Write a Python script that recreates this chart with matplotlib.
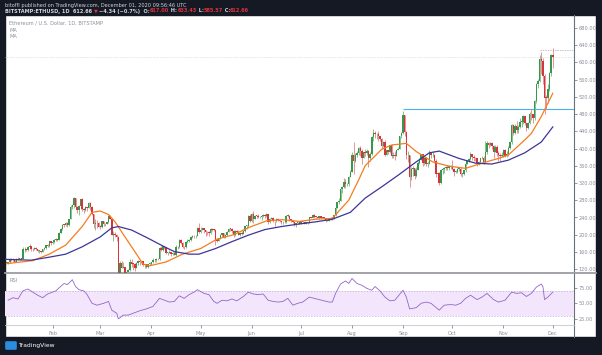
# -*- coding: utf-8 -*-

import matplotlib
matplotlib.use('Agg')
import matplotlib.pyplot as plt
import matplotlib.dates as mdates
from matplotlib.patches import Rectangle, FancyBboxPatch
import numpy as np
import pandas as pd

W, H = 602, 355

# BITSTAMP:ETHUSD daily candles, 2020-01-04 .. 2020-12-01 (open = previous close)
first_open = 134.3
close_jan = [134.5, 135.8, 144.0, 142.9, 141.0, 137.9, 144.0, 142.6, 146.3, 143.7,
             165.9, 166.2, 164.0, 170.6, 174.4, 166.7, 166.6, 169.2, 167.9, 162.3,
             162.6, 160.6, 167.8, 170.3, 175.2, 174.1, 184.4, 180.0]
high_jan = [136, 137, 145, 147, 145, 142, 145, 148, 147, 146,
            171, 172, 167, 174, 179, 175, 169, 171, 172, 168,
            165, 162, 168, 171, 177, 178, 186, 184]
low_jan = [133, 133, 135, 140, 138, 136, 136, 141, 142, 142,
           143, 160, 162, 163, 168, 163, 162, 165, 165, 161,
           157, 157, 159, 165, 168, 171, 172, 176]

close_feb = [183.5, 188.6, 189.5, 188.9, 204.0, 212.5, 223.1, 223.0, 228.3, 223.0,
             236.7, 265.0, 268.4, 284.2, 265.0, 258.0, 267.5, 282.4, 258.9, 258.3,
             264.9, 261.9, 274.5, 265.5, 248.0, 225.0, 227.3, 226.4, 218.5]
high_feb = [185, 190, 193, 190, 206, 215, 226, 226, 230, 229,
            237, 268, 271, 288, 286, 267, 269, 284, 286, 262,
            267, 264, 275, 276, 266, 248, 237, 234, 229]
low_feb = [179, 180, 186, 186, 188, 203, 211, 218, 220, 219,
           220, 236, 259, 261, 264, 250, 245, 260, 256, 250,
           255, 256, 261, 257, 245, 215, 212, 215, 217]

close_mar = [218.0, 231.0, 224.3, 224.5, 228.5, 244.5, 237.5, 200.5, 201.0, 200.5,
             194.5, 112.0, 133.5, 124.0, 125.0, 110.5, 113.0, 117.5, 136.0, 133.0,
             132.0, 123.0, 135.0, 138.5, 136.0, 138.5, 131.0, 131.5, 125.0, 132.0,
             133.3]
high_mar = [222, 233, 232, 228, 229, 245, 246, 238, 209, 207,
            201, 196, 138, 138, 136, 126, 118, 120, 143, 144,
            135, 135, 137, 142, 141, 140, 140, 132, 133, 133,
            136]
low_mar = [213, 216, 221, 221, 224, 227, 236, 199, 185, 195,
           185, 104, 95, 122, 123, 101, 107, 110, 116, 126,
           119, 117, 122, 131, 130, 135, 128, 123, 124, 124,
           130]

close_apr = [136.5, 141.5, 141.0, 144.2, 143.0, 170.0, 164.5, 173.0, 170.5, 158.0,
             158.5, 161.0, 156.0, 157.5, 153.0, 172.5, 171.0, 187.0, 180.5, 171.0,
             170.5, 182.5, 185.5, 187.5, 194.5, 197.5, 196.5, 197.0, 215.5, 206.5]
high_apr = [137, 145, 143, 145, 146, 172, 175, 175, 175, 172,
            160, 164, 161, 160, 161, 176, 175, 189, 189, 184,
            174, 185, 189, 189, 196, 200, 200, 199, 218, 227]
low_apr = [130, 135, 137, 137, 142, 142, 162, 163, 168, 155,
           154, 157, 150, 154, 152, 151, 168, 170, 179, 169,
           167, 169, 181, 184, 186, 193, 193, 192, 196, 203]

close_may = [212.0, 214.5, 210.0, 207.5, 205.5, 204.5, 212.5, 212.0, 211.0, 188.5,
             186.0, 190.0, 199.5, 203.5, 194.5, 200.5, 207.0, 214.0, 213.5, 209.0,
             198.5, 209.0, 207.5, 200.5, 205.0, 202.0, 208.5, 220.0, 220.5, 244.0,
             231.5]
high_may = [217, 216, 215, 210, 209, 209, 215, 216, 213, 213,
            193, 193, 202, 204, 205, 202, 209, 215, 216, 216,
            210, 210, 211, 210, 207, 208, 210, 221, 222, 245,
            247]
low_may = [204, 210, 203, 197, 200, 198, 202, 208, 208, 177,
           183, 185, 189, 195, 192, 193, 198, 206, 208, 205,
           195, 198, 204, 199, 197, 199, 201, 206, 214, 219,
           229]

close_jun = [247.5, 237.5, 244.5, 244.0, 240.5, 242.0, 244.5, 246.5, 244.0, 247.5,
             230.5, 237.0, 238.5, 233.0, 231.0, 236.0, 234.0, 232.5, 228.5, 230.0,
             229.0, 243.5, 244.0, 235.5, 233.0, 230.5, 221.5, 227.0, 229.0, 226.0]
high_jun = [250, 254, 245, 246, 247, 243, 246, 248, 247, 250,
            248, 238, 240, 240, 233, 238, 238, 236, 233, 232,
            233, 245, 248, 245, 236, 233, 232, 227, 230, 230]
low_jun = [230, 227, 236, 238, 238, 239, 234, 241, 238, 240,
           226, 228, 236, 230, 220, 230, 231, 230, 226, 225,
           227, 228, 240, 232, 229, 228, 220, 219, 225, 224]

close_jul = [231.0, 229.0, 226.0, 229.0, 227.0, 241.0, 239.0, 246.5, 242.0, 241.5,
             239.0, 242.5, 240.0, 241.0, 238.0, 233.0, 233.0, 235.5, 239.0, 236.5,
             245.0, 263.0, 275.0, 279.0, 305.0, 311.0, 322.0, 317.0, 318.0, 334.0,
             346.0]
high_jul = [232, 233, 229, 230, 229, 242, 242, 247, 248, 242,
            241, 243, 242, 242, 242, 238, 235, 236, 240, 240,
            246, 265, 277, 285, 306, 314, 332, 330, 321, 336,
            349]
low_jul = [225, 227, 225, 225, 224, 227, 238, 238, 239, 236,
           238, 237, 239, 238, 237, 229, 231, 232, 234, 235,
           236, 243, 262, 272, 278, 297, 308, 309, 312, 314,
           333]

close_aug = [386, 370, 386, 390, 401, 395, 379, 391, 390, 394,
             378, 387, 427, 437, 433, 433, 429, 423, 406, 416,
             386, 396, 391, 408, 383, 386, 382, 396, 400, 428,
             435]
high_aug = [392, 415, 390, 395, 403, 405, 399, 392, 398, 400,
            397, 391, 430, 445, 440, 436, 440, 429, 425, 418,
            420, 396, 397, 409, 410, 392, 394, 397, 403, 429,
            438]
low_aug = [345, 340, 368, 381, 385, 383, 365, 377, 383, 386,
           358, 370, 386, 417, 425, 421, 418, 418, 400, 403,
           383, 387, 387, 389, 379, 377, 373, 382, 396, 399,
           425]

close_sep = [477, 439, 384, 386, 335, 353, 354, 337, 351, 367,
             373, 387, 366, 377, 365, 365, 389, 384, 384, 371,
             341, 344, 320, 349, 352, 354, 357, 354, 359, 360]
high_sep = [488, 478, 440, 395, 386, 356, 359, 355, 356, 372,
            378, 388, 388, 380, 380, 370, 397, 389, 394, 387,
            375, 346, 346, 352, 354, 358, 360, 361, 362, 361]
low_sep = [434, 428, 375, 368, 310, 326, 336, 330, 335, 349,
           363, 373, 359, 361, 360, 358, 363, 377, 380, 367,
           334, 333, 315, 318, 342, 344, 349, 351, 349, 352]

close_oct = [353, 346, 346, 353, 353, 341, 341, 350, 365, 371,
             375, 387, 381, 378, 377, 366, 368, 377, 379, 368,
             392, 413, 409, 412, 406, 393, 404, 389, 386, 382,
             386]
high_oct = [374, 355, 349, 354, 356, 356, 343, 351, 368, 373,
            377, 393, 388, 384, 381, 379, 370, 378, 382, 382,
            417, 418, 415, 416, 415, 409, 409, 408, 394, 390,
            393]
low_oct = [350, 337, 344, 344, 347, 336, 335, 338, 346, 363,
           369, 373, 374, 372, 370, 359, 362, 366, 375, 365,
           366, 387, 402, 406, 399, 378, 393, 382, 371, 371,
           380]

close_nov = [396, 383, 388, 402, 415, 454, 435, 453, 444, 449,
             462, 462, 476, 460, 448, 460, 481, 479, 471, 510,
             549, 557, 608, 603, 568, 518, 517, 538, 575, 617]
high_nov = [398, 398, 394, 406, 418, 456, 456, 456, 463, 454,
            470, 470, 478, 476, 461, 462, 485, 491, 479, 512,
            551, 562, 617, 624, 609, 573, 525, 550, 577, 618]
low_nov = [381, 380, 380, 382, 398, 411, 432, 433, 436, 435,
           447, 450, 457, 454, 441, 445, 456, 467, 458, 466,
           506, 540, 555, 572, 550, 480, 492, 505, 533, 568]

close_dec = [612.66]
high_dec = [633.43]
low_dec = [585.57]

# moving averages
ma_fast_dates = ['2020-01-04', '2020-01-20', '2020-01-30', '2020-02-09', '2020-02-19',
                 '2020-02-25', '2020-03-01', '2020-03-06', '2020-03-10', '2020-03-16',
                 '2020-03-22', '2020-03-27', '2020-03-31', '2020-04-10', '2020-04-20',
                 '2020-05-01', '2020-05-11', '2020-05-21', '2020-05-31', '2020-06-10',
                 '2020-06-20', '2020-06-30', '2020-07-10', '2020-07-20', '2020-07-30',
                 '2020-08-05', '2020-08-09', '2020-08-19', '2020-08-25', '2020-09-03',
                 '2020-09-09', '2020-09-19', '2020-09-29', '2020-10-09', '2020-10-19',
                 '2020-10-29', '2020-11-04', '2020-11-14', '2020-11-18', '2020-11-24',
                 '2020-12-01']
ma_fast = [133, 140, 155, 176, 219,
           252, 255, 247, 230, 195,
           161, 132, 128, 137, 155,
           168, 190, 200, 218, 232,
           235, 231, 236, 238, 280,
           327, 360, 398, 408, 412,
           393, 369, 359, 354, 366,
           377, 385, 420, 435, 474,
           528]

ma_slow_dates = ['2020-01-03', '2020-01-19', '2020-01-30', '2020-02-09', '2020-02-19',
                 '2020-03-01', '2020-03-08', '2020-03-12', '2020-03-20', '2020-03-30',
                 '2020-04-09', '2020-04-15', '2020-04-24', '2020-04-30', '2020-05-10',
                 '2020-05-20', '2020-05-30', '2020-06-09', '2020-06-19', '2020-06-30',
                 '2020-07-10', '2020-07-20', '2020-07-31', '2020-08-09', '2020-08-19',
                 '2020-08-29', '2020-09-09', '2020-09-17', '2020-09-23', '2020-10-05',
                 '2020-10-15', '2020-10-25', '2020-11-04', '2020-11-14', '2020-11-24',
                 '2020-12-01']
ma_slow = [143, 141, 148, 155, 172,
           195, 216, 219, 211, 192,
           172, 161, 155, 155, 168,
           184, 199, 212, 219, 225,
           230, 236, 252, 285, 311,
           338, 369, 390, 394, 377,
           366, 364, 373, 390, 415,
           450]

# RSI(14)
rsi_dates = ['2020-01-05', '2020-01-08', '2020-01-11', '2020-01-14', '2020-01-17',
             '2020-01-20', '2020-01-23', '2020-01-26', '2020-01-29', '2020-02-01',
             '2020-02-03', '2020-02-05', '2020-02-08', '2020-02-10', '2020-02-13',
             '2020-02-15', '2020-02-17', '2020-02-20', '2020-02-22', '2020-02-25',
             '2020-02-28', '2020-03-03', '2020-03-06', '2020-03-08', '2020-03-11',
             '2020-03-12', '2020-03-15', '2020-03-18', '2020-03-21', '2020-03-25',
             '2020-03-29', '2020-04-02', '2020-04-06', '2020-04-09', '2020-04-12',
             '2020-04-15', '2020-04-18', '2020-04-21', '2020-04-24', '2020-04-27',
             '2020-04-29', '2020-05-03', '2020-05-06', '2020-05-09', '2020-05-11',
             '2020-05-14', '2020-05-17', '2020-05-20', '2020-05-23', '2020-05-27',
             '2020-05-30', '2020-06-02', '2020-06-05', '2020-06-08', '2020-06-11',
             '2020-06-14', '2020-06-17', '2020-06-20', '2020-06-23', '2020-06-26',
             '2020-06-29', '2020-07-02', '2020-07-06', '2020-07-09', '2020-07-12',
             '2020-07-15', '2020-07-18', '2020-07-20', '2020-07-22', '2020-07-25',
             '2020-07-28', '2020-07-30', '2020-08-01', '2020-08-04', '2020-08-07',
             '2020-08-10', '2020-08-13', '2020-08-15', '2020-08-18', '2020-08-21',
             '2020-08-24', '2020-08-27', '2020-09-01', '2020-09-03', '2020-09-05',
             '2020-09-09', '2020-09-12', '2020-09-15', '2020-09-18', '2020-09-23',
             '2020-09-26', '2020-09-30', '2020-10-03', '2020-10-06', '2020-10-09',
             '2020-10-12', '2020-10-16', '2020-10-19', '2020-10-22', '2020-10-26',
             '2020-10-29', '2020-11-02', '2020-11-06', '2020-11-09', '2020-11-12',
             '2020-11-15', '2020-11-18', '2020-11-21', '2020-11-24', '2020-11-25',
             '2020-11-26', '2020-11-28', '2020-12-01']
rsi_vals = [55, 59, 57, 70, 73,
            68, 63, 59, 65, 68,
            70, 75, 82, 80, 88,
            77, 72, 70, 64, 50,
            47, 50, 53, 39, 34,
            25, 31, 31, 34, 38,
            41, 45, 58, 55, 52,
            53, 62, 58, 64, 68,
            72, 66, 64, 53, 50,
            55, 54, 57, 54, 61,
            68, 65, 64, 65, 55,
            53, 52, 53, 58, 47,
            50, 52, 60, 58, 56,
            54, 52, 52, 66, 81,
            86, 82, 90, 82, 79,
            74, 71, 77, 70, 60,
            54, 55, 71, 60, 41,
            43, 50, 52, 50, 39,
            47, 48, 47, 50, 58,
            63, 56, 60, 66, 56,
            52, 55, 68, 66, 67,
            61, 66, 76, 81, 77,
            56, 60, 68]

months = ['Feb', 'Mar', 'Apr', 'May', 'Jun', 'Jul', 'Aug', 'Sep', 'Oct', 'Nov', 'Dec']
price_ticks = [120, 160, 200, 240, 280, 320, 360, 400, 440, 480, 520, 560, 600, 640, 680]
rsi_ticks = [25, 50, 75]

DARK = '#151924'
GREEN = '#38974a'
RED = '#d8323c'
GRAY_TXT = '#8a8e99'
FS = 3.6


def px(x, y):
    # pixel position -> figure fraction
    return x / W, 1 - y / H


def main():
    fig = plt.figure(figsize=(W / 100, H / 100), dpi=100)

    bg = fig.add_axes([0, 0, 1, 1])
    bg.set_xlim(0, W)
    bg.set_ylim(H, 0)
    bg.axis('off')
    bg.add_patch(Rectangle((0, 0), W, H, color='white', zorder=0))
    bg.add_patch(Rectangle((0, 0), W, 15, color=DARK, zorder=1))
    bg.add_patch(Rectangle((0, 337), W, 18, color=DARK, zorder=1))
    bg.add_patch(Rectangle((0, 0), 4.5, H, color=DARK, zorder=1))
    bg.add_patch(Rectangle((596, 0), 6, H, color=DARK, zorder=1))
    bg.plot([574, 574], [15, 337], color='#6b6f78', lw=0.8, zorder=2)
    bg.plot([4.5, 596], [273, 273], color='#9a9ca3', lw=1.3, zorder=2)
    bg.plot([4.5, 574], [324.5, 324.5], color='#c4c6cc', lw=0.6, zorder=2)

    # header lines
    bg.text(5, 5.2, 'bitoffl published on TradingView.com, December 01, 2020 09:56:46 UTC',
            color='#d1d4dc', fontsize=FS, va='center', zorder=3)
    pieces = [('BITSTAMP:ETHUSD, 1D  612.66 ', '#d1d4dc'), ('\u25bc ', RED),
              ('\u22124.34 (\u22120.7%)  O:', '#d1d4dc'), ('617.00', RED),
              (' H:', '#d1d4dc'), ('633.43', RED), (' L:', '#d1d4dc'), ('585.57', RED),
              (' C:', '#d1d4dc'), ('612.66', RED)]
    prev = bg.text(5, 11, pieces[0][0], color=pieces[0][1], fontsize=FS,
                   fontweight='bold', va='center', zorder=3)
    for s, c in pieces[1:]:
        prev = bg.annotate(s, xycoords=prev, xy=(1, 0), va='bottom', color=c,
                           fontsize=FS, fontweight='bold', zorder=3)

    bg.text(9, 23, 'Ethereum / U.S. Dollar, 1D, BITSTAMP', color=GRAY_TXT, fontsize=FS,
            va='center', zorder=3)
    bg.text(9, 30, 'MA', color=GRAY_TXT, fontsize=FS, va='center', zorder=3)
    bg.text(9, 37, 'MA', color=GRAY_TXT, fontsize=FS, va='center', zorder=3)
    bg.text(9, 281, 'RSI', color=GRAY_TXT, fontsize=FS, va='center', zorder=3)

    # TradingView logo in the footer
    bg.add_patch(FancyBboxPatch((6.5, 342.5), 9, 6, boxstyle='round,pad=0.6',
                                color='#2a8de0', zorder=3))
    bg.text(18.5, 346, 'TradingView', color='white', fontsize=4.3, va='center', zorder=3)

    make_price(fig)
    make_rsi(fig)

    fig.savefig('out.png', dpi=100)
    plt.close()


def x_limits():
    ref = mdates.date2num(pd.Timestamp('2020-02-01'))
    return ref - 29.2, ref + 316.9


def make_price(fig):
    x0, y0 = px(4.5, 273)
    x1, y1 = px(574, 14)
    ax = fig.add_axes([x0, y0, x1 - x0, y1 - y0])
    ax.set_facecolor('none')

    close = np.array(close_jan + close_feb + close_mar + close_apr + close_may + close_jun +
                     close_jul + close_aug + close_sep + close_oct + close_nov + close_dec, float)
    high = np.array(high_jan + high_feb + high_mar + high_apr + high_may + high_jun +
                    high_jul + high_aug + high_sep + high_oct + high_nov + high_dec, float)
    low = np.array(low_jan + low_feb + low_mar + low_apr + low_may + low_jun +
                   low_jul + low_aug + low_sep + low_oct + low_nov + low_dec, float)
    dates = pd.date_range('2020-01-04', periods=len(close), freq='D')
    x = mdates.date2num(dates)
    opn = np.concatenate([[first_open], close[:-1]])

    up = close >= opn
    body_lo = np.minimum(opn, close)
    body_h = np.maximum(np.abs(close - opn), 1.5)
    hi = np.maximum(high, np.maximum(opn, close))
    lo = np.minimum(low, np.minimum(opn, close))

    wick_col = np.where(up, '#7fbf8c', '#e98a90')
    ax.vlines(x, lo, hi, colors=wick_col, lw=0.65, zorder=2)
    ax.bar(x, body_h, bottom=body_lo, width=0.9, color=np.where(up, GREEN, RED),
           linewidth=0, zorder=3)

    ax.plot(pd.to_datetime(ma_fast_dates), ma_fast, color='#f57c1f', lw=0.9, zorder=4)
    ax.plot(pd.to_datetime(ma_slow_dates), ma_slow, color='#3d3599', lw=0.9, zorder=4)

    xl = x_limits()
    ax.axhline(close[-1], color='#c9cbd0', lw=0.5, ls=(0, (1, 1.5)), zorder=1)
    ax.hlines(491, mdates.date2num(pd.Timestamp('2020-09-01')), xl[1],
              color='#4cb0ea', lw=0.8, zorder=1)
    ax.hlines(628, mdates.date2num(pd.Timestamp('2020-11-23')), xl[1],
              color='#a9abb0', lw=0.5, ls=(0, (2, 1.5)), zorder=1)

    ax.set_xlim(xl)
    ax.set_ylim(111.3, 711.9)
    ax.set_xticks([])
    ax.yaxis.tick_right()
    ax.set_yticks(price_ticks)
    ax.set_yticklabels(['%.2f' % v for v in price_ticks])
    ax.tick_params(axis='y', labelsize=FS, colors='#6b6f78', length=2, width=0.5,
                   pad=1.5, labelcolor=GRAY_TXT)
    for s in ax.spines.values():
        s.set_visible(False)


def make_rsi(fig):
    x0, y0 = px(4.5, 324.5)
    x1, y1 = px(574, 273)
    ax = fig.add_axes([x0, y0, x1 - x0, y1 - y0])
    ax.set_facecolor('none')

    ax.axhspan(30, 70, color='#f3e6fc', lw=0, zorder=0)
    ax.axhline(70, color='#c0a9d6', lw=0.5, ls=(0, (2, 2)), zorder=1)
    ax.axhline(30, color='#c0a9d6', lw=0.5, ls=(0, (2, 2)), zorder=1)
    ax.plot(pd.to_datetime(rsi_dates), rsi_vals, color='#9466c4', lw=0.6, zorder=2)

    ax.set_xlim(x_limits())
    ax.set_ylim(15.9, 98.8)
    ax.yaxis.tick_right()
    ax.set_yticks(rsi_ticks)
    ax.set_yticklabels(['%.2f' % v for v in rsi_ticks])
    ticks = [pd.Timestamp('2020-%02d-01' % m) for m in range(2, 13)]
    ax.set_xticks(mdates.date2num(ticks))
    ax.set_xticklabels(months)
    ax.tick_params(axis='both', labelsize=FS, colors='#6b6f78', length=2, width=0.5,
                   pad=1.5, labelcolor=GRAY_TXT)
    ax.tick_params(axis='x', pad=3)
    for s in ax.spines.values():
        s.set_visible(False)


if __name__ == "__main__":
    main()
